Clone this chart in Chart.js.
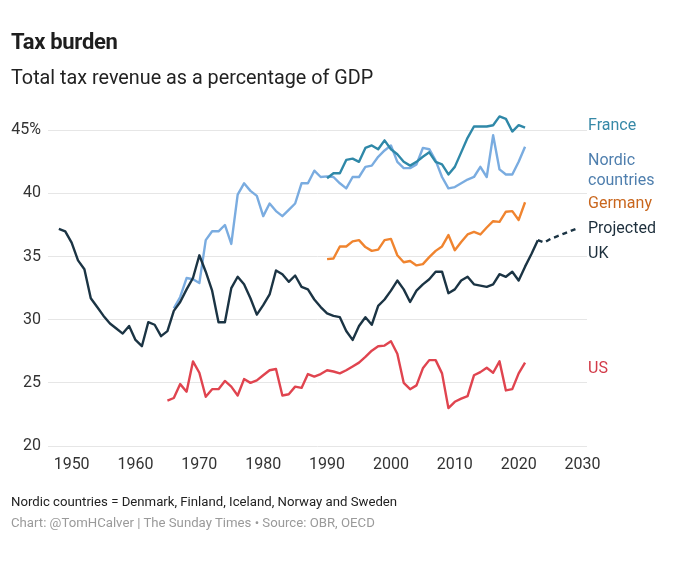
<!DOCTYPE html>
<html><head><meta charset="utf-8">
<script src="https://cdn.jsdelivr.net/npm/chart.js@4.4.0/dist/chart.umd.min.js"></script>
<style>
html,body{margin:0;padding:0;background:#fff;width:680px;height:570px;overflow:hidden;font-family:Roboto,"Noto Sans",sans-serif}
#wrap{position:relative;width:680px;height:570px}
canvas{position:absolute;left:0;top:0}
.t{position:absolute;left:11px;white-space:nowrap;line-height:1}
</style></head><body>
<div id="wrap">
<canvas id="c" width="680" height="570"></canvas>
<div class="t" style="top:31px;font-size:22px;font-weight:700;color:#1e1e1e;letter-spacing:-0.3px">Tax burden</div>
<div class="t" style="top:68px;font-size:19.8px;color:#222">Total tax revenue as a percentage of GDP</div>
<div class="t" style="top:495px;font-size:13.2px;color:#222">Nordic countries = Denmark, Finland, Iceland, Norway and Sweden</div>
<div class="t" style="top:516px;font-size:13.2px;color:#9a9a9a">Chart: @TomHCalver | The Sunday Times • Source: OBR, OECD</div>
</div>
<script>
// ---- data (percent of GDP) ----
const ukStart = 1948;
const ukValues = [37.2,37.0,36.1,34.7,34.0,31.7,31.0,30.3,29.7,29.3,28.9,29.5,28.4,27.9,29.8,29.6,28.7,29.1,30.7,31.4,
  32.4,33.3,35.1,33.8,32.3,29.8,29.8,32.5,33.4,32.8,31.7,30.4,31.15,32.0,33.9,33.6,33.0,33.5,32.6,32.4,
  31.6,31.0,30.5,30.3,30.2,29.1,28.4,29.5,30.2,29.6,31.1,31.6,32.3,33.1,32.4,31.4,32.3,32.8,33.2,33.8,
  33.8,32.1,32.4,33.1,33.4,32.8,32.7,32.6,32.8,33.6,33.4,33.8,33.1,34.2,35.2,36.3];
const projStart = 2023;
const projValues = [36.3,36.1,36.4,36.6,36.8,37.0,37.2];
const nordicStart = 1966;
const nordicValues = [30.9,31.8,33.3,33.2,32.9,36.3,37.0,37.0,37.5,36.0,39.9,40.8,40.2,39.8,38.2,39.2,38.6,38.2,38.7,39.2,
  40.8,40.8,41.8,41.3,41.35,41.3,40.8,40.4,41.3,41.3,42.1,42.2,42.9,43.4,43.8,42.5,42.0,42.0,42.3,43.6,
  43.5,42.6,41.3,40.4,40.5,40.8,41.1,41.3,42.1,41.3,44.6,41.9,41.5,41.5,42.5,43.7];
const franceStart = 1990;
const franceValues = [41.2,41.6,41.6,42.65,42.75,42.5,43.6,43.8,43.5,44.2,43.5,43.1,42.5,42.2,42.5,42.9,43.25,42.5,42.3,41.5,
  42.1,43.25,44.4,45.3,45.3,45.3,45.4,46.1,45.9,44.9,45.4,45.2];
const germanyStart = 1990;
const germanyValues = [34.8,34.85,35.8,35.8,36.2,36.3,35.75,35.45,35.55,36.3,36.4,35.1,34.55,34.65,34.3,34.4,34.95,35.45,35.8,36.7,
  35.5,36.15,36.75,36.95,36.75,37.3,37.8,37.75,38.55,38.6,37.9,39.3];
const usStart = 1965;
const usValues = [23.6,23.8,24.9,24.3,26.7,25.8,23.9,24.5,24.5,25.15,24.7,24.0,25.3,25.0,25.2,25.6,26.0,26.1,24.0,24.1,
  24.7,24.6,25.7,25.5,25.7,26.0,25.9,25.75,26.0,26.3,26.6,27.05,27.55,27.9,27.95,28.3,27.3,25.0,24.5,24.8,
  26.15,26.8,26.8,25.75,23.0,23.5,23.75,23.95,25.6,25.85,26.2,25.8,26.7,24.4,24.5,25.75,26.6];
const xTicks = [1950,1960,1970,1980,1990,2000,2010,2020,2030];
const yTicks = [20,25,30,35,40,45];
// end-of-line labels: text, value at which it is centred, colour
const labelTexts = ['France','Nordic','countries','Germany','Projected','UK','US'];
const labelValues = [45.32,42.55,41.02,39.14,37.16,35.17,26.12];
const labelColors = ['#3789a7','#4f7fae','#4f7fae','#c9661d','#1d2f3c','#1d2f3c','#d23a48'];

function pts(start, vals){ return vals.map((v,i)=>({x:start+i, y:v})); }

const endLabels = {
  id:'endLabels',
  afterDatasetsDraw(chart){
    const {ctx, chartArea, scales:{y}} = chart;
    ctx.save();
    ctx.font = '16px Roboto, "Noto Sans", sans-serif';
    ctx.textAlign = 'left';
    ctx.textBaseline = 'middle';
    labelTexts.forEach((t,i)=>{
      ctx.fillStyle = labelColors[i];
      ctx.fillText(t, chartArea.right + 1, y.getPixelForValue(labelValues[i]));
    });
    ctx.restore();
  }
};

const base = {fill:false, pointRadius:0, borderWidth:2.4, tension:0, borderJoinStyle:'round', borderCapStyle:'butt'};
new Chart(document.getElementById('c'), {
  type:'line',
  data:{datasets:[
    {...base, label:'UK', data:pts(ukStart, ukValues), borderColor:'#1b3444'},
    {...base, label:'UK projected', data:pts(projStart, projValues), borderColor:'#1b3444', borderDash:[5,4]},
    {...base, label:'France', data:pts(franceStart, franceValues), borderColor:'#2f88a8'},
    {...base, label:'Nordic countries', data:pts(nordicStart, nordicValues), borderColor:'#7aace0'},
    {...base, label:'Germany', data:pts(germanyStart, germanyValues), borderColor:'#f0842f'},
    {...base, label:'US', data:pts(usStart, usValues), borderColor:'#e0444f'}
  ]},
  options:{
    responsive:false, animation:false, devicePixelRatio:1,
    layout:{padding:{left:0,right:93,top:105,bottom:0}},
    plugins:{legend:{display:false}, tooltip:{enabled:false}},
    scales:{
      x:{type:'linear', min:1946.3, max:2030.7,
         grid:{display:false}, border:{display:false},
         afterBuildTicks:s=>{ s.ticks = xTicks.map(v=>({value:v})); },
         ticks:{font:{family:'Roboto', size:16}, color:'#333', padding:1, autoSkip:false, maxRotation:0,
                callback:v=>String(v)},
         afterFit:s=>{ s.height = 124; }},
      y:{min:20, max:47,
         grid:{color:'#e6e6e6', lineWidth:1, drawTicks:false}, border:{display:false},
         afterBuildTicks:s=>{ s.ticks = yTicks.map(v=>({value:v})); },
         ticks:{font:{family:'Roboto', size:16}, color:'#333', padding:7,
                callback:v=> v===45 ? '45%' : String(v)},
         afterFit:s=>{ s.width = 48; }}
    }
  },
  plugins:[endLabels]
});
</script>
</body></html>
